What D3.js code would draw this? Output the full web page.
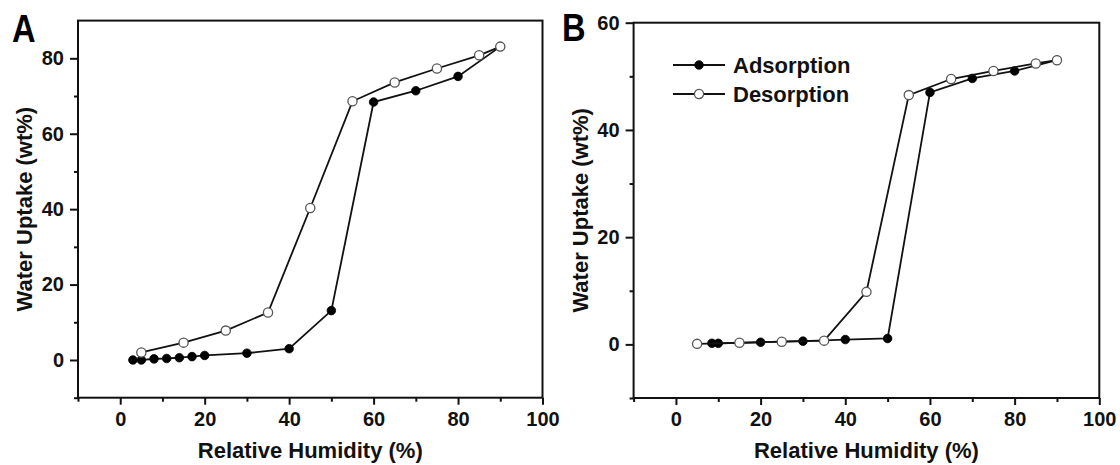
<!DOCTYPE html>
<html>
<head>
<meta charset="utf-8">
<script src="https://cdn.jsdelivr.net/npm/d3@7"></script>
<style>
    body { margin: 0; background: #fff; }
    svg { display: block; font-family: "Liberation Sans", Arial, sans-serif; font-weight: bold; }
</style>
</head>
<body>
<div id="chart_div"></div>
<script>

// panel A
var rhAdsA = [3, 5, 8, 11, 14, 17, 20, 30, 40, 50, 60, 70, 80, 90];
var upAdsA = [0, 0, 0.3, 0.4, 0.6, 0.9, 1.2, 1.8, 3.0, 13.1, 68.4, 71.4, 75.2, 83.1];
var rhDesA = [90, 85, 75, 65, 55, 45, 35, 25, 15, 5];
var upDesA = [83.1, 80.8, 77.3, 73.6, 68.6, 40.3, 12.6, 7.8, 4.6, 2.0];

// panel B
var rhAdsB = [8.5, 10, 20, 30, 40, 50, 60, 70, 80, 90];
var upAdsB = [0.2, 0.2, 0.4, 0.6, 0.9, 1.1, 47.0, 49.6, 51.0, 53.0];
var rhDesB = [90, 85, 75, 65, 55, 45, 35, 25, 15, 5];
var upDesB = [53.0, 52.4, 51.0, 49.5, 46.5, 9.8, 0.7, 0.5, 0.3, 0.1];

var xTicks = [0, 20, 40, 60, 80, 100];
var xMinor = [-10, 10, 30, 50, 70, 90];
var yTicksA = [0, 20, 40, 60, 80];
var yMinorA = [-10, 10, 30, 50, 70];
var yTicksB = [0, 20, 40, 60];
var yMinorB = [-10, 10, 30, 50];

var seriesNames = ["Adsorption", "Desorption"];

function zip(xs, ys) {
    return xs.map(function (x, i) { return [x, ys[i]]; });
}

function DrawPanel(svg, box) {
    var self = this;
    self.box = box;
    self.group = svg.append("g");
}

DrawPanel.prototype.draw = function (letter, yDomain, yTicks, yMinor, ads, des, legend) {

    var self = this;
    var b = self.box;

    var x = d3.scaleLinear().domain([-10, 100]).range([b.left, b.right]);
    var y = d3.scaleLinear().domain(yDomain).range([b.bottom, b.top]);

    // minor ticks first, then major
    self.group.append("g")
        .attr("transform", "translate(0," + b.bottom + ")")
        .call(d3.axisBottom(x).tickValues(xMinor).tickSize(4).tickFormat(""))
        .call(function (g) { g.select(".domain").remove(); });
    self.group.append("g")
        .attr("transform", "translate(0," + b.bottom + ")")
        .call(d3.axisBottom(x).tickValues(xTicks).tickSize(7).tickPadding(7))
        .call(function (g) { g.select(".domain").remove(); });

    self.group.append("g")
        .attr("transform", "translate(" + b.left + ",0)")
        .call(d3.axisLeft(y).tickValues(yMinor).tickSize(4).tickFormat(""))
        .call(function (g) { g.select(".domain").remove(); });
    self.group.append("g")
        .attr("transform", "translate(" + b.left + ",0)")
        .call(d3.axisLeft(y).tickValues(yTicks).tickSize(8).tickPadding(6))
        .call(function (g) { g.select(".domain").remove(); });

    self.group.selectAll(".tick line")
        .attr("stroke", "#111")
        .attr("stroke-width", 2);
    self.group.selectAll(".tick text")
        .attr("font-size", 20)
        .attr("font-family", "Liberation Sans, Arial, sans-serif")
        .attr("font-weight", "bold")
        .attr("fill", "#111");

    self.group.append("rect")
        .attr("x", b.left)
        .attr("y", b.top)
        .attr("width", b.right - b.left)
        .attr("height", b.bottom - b.top)
        .attr("fill", "none")
        .attr("stroke", "#111")
        .attr("stroke-width", 2);

    var line = d3.line()
        .x(function (d) { return x(d[0]); })
        .y(function (d) { return y(d[1]); });

    [ads, des].forEach(function (pts, k) {
        self.group.append("path")
            .datum(pts)
            .attr("d", line)
            .attr("fill", "none")
            .attr("stroke", "#111")
            .attr("stroke-width", 1.8);

        self.group.selectAll(".pt" + k)
            .data(pts)
            .enter().append("circle")
            .attr("class", "pt" + k)
            .attr("cx", function (d) { return x(d[0]); })
            .attr("cy", function (d) { return y(d[1]); })
            .attr("r", k === 0 ? 4.3 : 4.6)
            .attr("fill", k === 0 ? "#000" : "#fff")
            .attr("stroke", k === 0 ? "#000" : "#555")
            .attr("stroke-width", k === 0 ? 0.8 : 1.3);
    });

    // axis titles
    self.group.append("text")
        .attr("x", (b.left + b.right) / 2)
        .attr("y", b.bottom + 60)
        .attr("text-anchor", "middle")
        .attr("font-size", 22)
        .attr("fill", "#111")
        .text("Relative Humidity (%)");

    self.group.append("text")
        .attr("transform", "translate(" + (b.left - 46) + "," + ((b.top + b.bottom) / 2) + ") rotate(-90)")
        .attr("text-anchor", "middle")
        .attr("font-size", 22)
        .attr("fill", "#111")
        .text("Water Uptake (wt%)");

    self.group.append("text")
        .attr("transform", "translate(" + b.labelX + "," + b.labelY + ") scale(0.86,1)")
        .attr("font-size", 38)
        .attr("fill", "#000")
        .text(letter);

    if (legend) {
        var lg = self.group.append("g")
            .attr("transform", "translate(" + legend.x + "," + legend.y + ")");
        var row = lg.selectAll("g")
            .data(seriesNames)
            .enter().append("g")
            .attr("transform", function (d, i) { return "translate(0," + (i * 29) + ")"; });
        row.append("line")
            .attr("x1", 0).attr("x2", 52)
            .attr("stroke", "#111")
            .attr("stroke-width", 1.8);
        row.append("circle")
            .attr("cx", 26)
            .attr("r", function (d, i) { return i === 0 ? 4.3 : 4.6; })
            .attr("fill", function (d, i) { return i === 0 ? "#000" : "#fff"; })
            .attr("stroke", function (d, i) { return i === 0 ? "#000" : "#555"; })
            .attr("stroke-width", function (d, i) { return i === 0 ? 0.8 : 1.3; });
        row.append("text")
            .attr("x", 60)
            .attr("y", 7.5)
            .attr("font-size", 22)
            .attr("fill", "#111")
            .text(function (d) { return d; });
    }
};

var svg = d3.select("#chart_div").append("svg")
    .attr("width", 1120)
    .attr("height", 465);

var panelA = new DrawPanel(svg, {left: 78, right: 542.5, top: 20.6, bottom: 397.7, labelX: 12, labelY: 41.5});
panelA.draw("A", [-10, 90], yTicksA, yMinorA, zip(rhAdsA, upAdsA), zip(rhDesA, upDesA), null);

var panelB = new DrawPanel(svg, {left: 633.6, right: 1099.3, top: 22.7, bottom: 398, labelX: 562, labelY: 40.5});
panelB.draw("B", [-10, 60], yTicksB, yMinorB, zip(rhAdsB, upAdsB), zip(rhDesB, upDesB), {x: 673, y: 65});

</script>
</body>
</html>
